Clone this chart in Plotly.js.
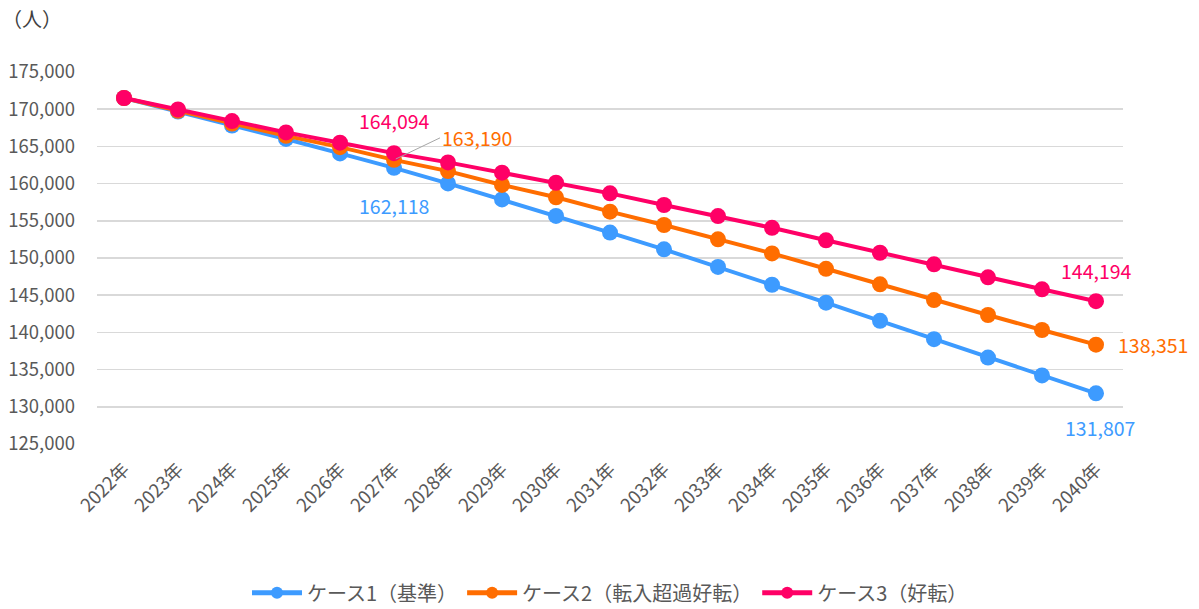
<!DOCTYPE html>
<html>
<head>
<meta charset="utf-8">
<script src="https://cdn.plot.ly/plotly-3.0.1.min.js"></script>
<style>html,body{margin:0;padding:0;background:#fff;}#chart{width:1199px;height:609px;}</style>
</head>
<body>
<div id="chart"></div>
<script>
const years = ['2022年','2023年','2024年','2025年','2026年','2027年','2028年','2029年','2030年','2031年','2032年','2033年','2034年','2035年','2036年','2037年','2038年','2039年','2040年'];
const case1 = [171505,169680,167800,166000,164060,162118,160030,157870,155660,153420,151160,148800,146400,144000,141550,139090,136620,134220,131807];
const case2 = [171505,169790,168080,166420,164900,163190,161680,159820,158160,156230,154440,152510,150620,148550,146460,144350,142340,140320,138351];
const case3 = [171505,169960,168400,166880,165500,164094,162850,161470,160110,158690,157120,155630,154060,152380,150710,149150,147400,145790,144194];
const names = ['ケース1（基準）','ケース2（転入超過好転）','ケース3（好転）'];
const colors = ['#3d9bff','#ff6d00','#ff0066'];
const yTicks = [125000,130000,135000,140000,145000,150000,155000,160000,165000,170000,175000];
const unitLabel = '（人）';

const FONT = '"Noto Sans CJK JP", "Noto Sans", sans-serif';
const series = [case1, case2, case3];
const traces = series.map((s, i) => ({
  type: 'scatter', mode: 'lines+markers', x: years, y: s, name: names[i],
  line: {color: colors[i], width: 4},
  marker: {color: colors[i], size: 16},
  hoverinfo: 'x+y'
}));

const fmt = v => v.toLocaleString('en-US');
const idx27 = years.indexOf('2027年');
const last = years.length - 1;
const LF = 19.5;
const annotations = [
  {x: years[idx27], y: case3[idx27], text: fmt(case3[idx27]), showarrow: false, yshift: 33, font: {color: colors[2], size: LF, family: FONT}},
  {x: years[idx27], y: case1[idx27], text: fmt(case1[idx27]), showarrow: false, yshift: -38, font: {color: colors[0], size: LF, family: FONT}},
  {x: years[idx27], y: case2[idx27], text: fmt(case2[idx27]), showarrow: true, arrowhead: 0, arrowwidth: 1, arrowcolor: '#a6a6a6',
    ax: 46, ay: -22, xanchor: 'left', standoff: 2, font: {color: colors[1], size: LF, family: FONT}},
  {x: years[last], y: case3[last], text: fmt(case3[last]), showarrow: false, yshift: 31, font: {color: colors[2], size: LF, family: FONT}},
  {x: years[last], y: case2[last], text: fmt(case2[last]), showarrow: false, xshift: 57, font: {color: colors[1], size: LF, family: FONT}},
  {x: years[last], y: case1[last], text: fmt(case1[last]), showarrow: false, yshift: -34, xshift: 4, font: {color: colors[0], size: LF, family: FONT}},
  {xref: 'paper', yref: 'paper', x: -0.095, y: 1.145, xanchor: 'left', yanchor: 'middle', text: unitLabel, showarrow: false, font: {color: '#404040', size: 20, family: FONT}}
];

const layout = {
  width: 1199, height: 609,
  margin: {l: 97, r: 76, t: 72, b: 165, autoexpand: false},
  paper_bgcolor: '#fff', plot_bgcolor: '#fff',
  font: {family: FONT, color: '#595959', size: 18},
  showlegend: true,
  legend: {orientation: 'h', x: 0.5, xanchor: 'center', y: -0.40, yanchor: 'middle', itemsizing: 'constant',
    font: {size: 20, color: '#595959', family: FONT}, itemwidth: 50, traceorder: 'normal'},
  xaxis: {type: 'category', range: [-0.5, years.length - 0.5], tickangle: -45, showgrid: false, zeroline: false,
    showline: false, ticks: '', ticklabelstandoff: 10, tickfont: {size: 18.5, color: '#595959', family: FONT}, fixedrange: true, automargin: false},
  yaxis: {range: [125000, 175000], tickvals: yTicks, ticktext: yTicks.map(fmt), showgrid: true, gridcolor: '#d9d9d9', gridwidth: 1.5,
    zeroline: false, showline: false, ticks: '', ticklabelstandoff: 21, tickfont: {size: 18.5, color: '#595959', family: FONT}, fixedrange: true, automargin: false},
  annotations: annotations
};
Plotly.newPlot('chart', traces, layout, {displayModeBar: false, staticPlot: true});
</script>
</body>
</html>
